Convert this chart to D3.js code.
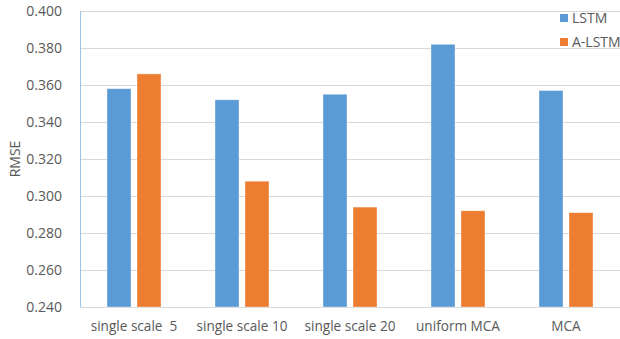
<!DOCTYPE html>
<html><head><meta charset="utf-8">
<script src="https://cdn.jsdelivr.net/npm/d3@7"></script>
<style>body{margin:0;background:#fff;} text{font-family:"Open Sans","Noto Sans",sans-serif;fill:#595959;}</style>
</head><body><svg id="c" width="620" height="339"></svg>
<script>
const categories = ["single scale  5","single scale 10","single scale 20","uniform MCA","MCA"];
const seriesNames = ["LSTM","A-LSTM"];
const lstm = [0.358,0.352,0.355,0.382,0.357];
const alstm = [0.366,0.308,0.294,0.292,0.291];
const yTicks = [0.24,0.26,0.28,0.30,0.32,0.34,0.36,0.38,0.40];
const colors = ["#5B9BD5","#ED7D31"];

const svg = d3.select("#c");
const m = {l:80, r:620, t:11, b:307};
const x = d3.scaleBand().domain(categories).range([m.l,m.r]);
const y = d3.scaleLinear().domain([0.24,0.40]).range([m.b,m.t]);
const bw = 24, gap = 6;

svg.append("g").selectAll("line").data(yTicks).join("line")
  .attr("x1",m.l).attr("x2",m.r).attr("y1",d=>y(d)+0.5).attr("y2",d=>y(d)+0.5)
  .attr("stroke","#D9D9D9").attr("stroke-width",1);

svg.append("g").selectAll("text").data(yTicks).join("text")
  .attr("x",62).attr("y",d=>y(d)).attr("dy","0.35em").attr("text-anchor","end")
  .attr("font-size",14).text(d=>d3.format(".3f")(d));

const series = [lstm, alstm];
series.forEach((vals,si)=>{
  svg.append("g").selectAll("rect").data(vals).join("rect")
    .attr("x",(d,i)=>x(categories[i])+x.bandwidth()/2 + (si===0 ? -gap/2-bw : gap/2))
    .attr("y",d=>y(d)).attr("width",bw).attr("height",d=>y(0.24)-y(d))
    .attr("fill",colors[si]).attr("stroke","#fff").attr("stroke-opacity",0.5).attr("stroke-width",0.7);
});

svg.append("line").attr("x1",m.l+0.5).attr("x2",m.l+0.5).attr("y1",m.t).attr("y2",m.b)
  .attr("stroke","#9DC3E6").attr("stroke-width",1);

svg.append("g").selectAll("text").data(categories).join("text")
  .attr("x",d=>x(d)+x.bandwidth()/2).attr("y",326).attr("dy","0.35em").attr("text-anchor","middle")
  .attr("font-size",13.6).attr("xml:space","preserve").style("white-space","pre").text(d=>d);

svg.append("text").attr("transform","translate(15,159) rotate(-90)").attr("text-anchor","middle")
  .attr("dy","0.35em").attr("font-size",14).text("RMSE");

const lg = svg.append("g");
seriesNames.forEach((n,i)=>{
  lg.append("rect").attr("x",560).attr("y",14+i*24).attr("width",8).attr("height",8).attr("fill",colors[i]);
  lg.append("text").attr("x",572).attr("y",18+i*24).attr("dy","0.35em").attr("font-size",14).text(n);
});
</script></body></html>
